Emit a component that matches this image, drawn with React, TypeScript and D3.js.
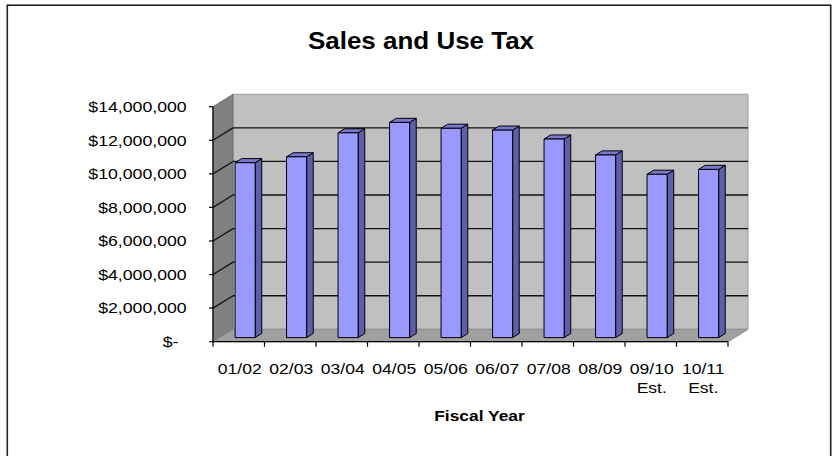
import React from "react";
import * as d3 from "d3";

const categories: string[][] = [
  ["01/02"], ["02/03"], ["03/04"], ["04/05"], ["05/06"],
  ["06/07"], ["07/08"], ["08/09"], ["09/10", "Est."], ["10/11", "Est."],
];
const values: number[] = [
  10420000, 10770000, 12200000, 12820000, 12470000,
  12360000, 11830000, 10880000, 9730000, 10020000,
];
const yTicks: number[] = [0, 2000000, 4000000, 6000000, 8000000, 10000000, 12000000, 14000000];
const title = "Sales and Use Tax";
const xTitle = "Fiscal Year";

const W = 832;
const H = 456;
const FONT = "'Liberation Sans', Arial, Helvetica, sans-serif";

export default function App() {
  const left = 213, right = 728, bottom = 341.7, top = 106.7;
  const DX = 20, DY = -12.4; // full depth
  const f1 = 0.33, f2 = 0.66; // bar depth fractions
  const sx = 1.18;

  const keys = categories.map((c) => c.join(" "));
  const x = d3.scaleBand<string>().domain(keys).range([left, right]).padding(0);
  const y = d3.scaleLinear().domain([0, 14000000]).range([bottom, top]);
  const bw = x.bandwidth();
  const fmt = d3.format(",");
  const label = (v: number) => (v === 0 ? "$-" : "$" + fmt(v));

  const pts = (arr: [number, number][]) => arr.map((p) => p.join(",")).join(" ");

  const yMax = y(14000000);
  const y0 = y(0);

  return (
    <svg width={W} height={H} style={{ position: "absolute", left: 0, top: 0, background: "#fff" }}>
      <rect x={7.3} y={5.2} width={823.4} height={470} fill="#fff" stroke="#222" strokeWidth={1.6} />

      {/* title */}
      <text transform={`translate(421,49) scale(1.06,1)`} textAnchor="middle" fontFamily={FONT} fontWeight="bold" fontSize={24.5} fill="#000">
        {title}
      </text>

      {/* walls */}
      <polygon points={pts([[left + DX, yMax + DY], [right + DX, yMax + DY], [right + DX, y0 + DY], [left + DX, y0 + DY]])} fill="#c0c0c0" stroke="#9a9a9a" strokeWidth={1} />
      <polygon points={pts([[left, y0], [left, yMax], [left + DX, yMax + DY], [left + DX, y0 + DY]])} fill="#808080" stroke="#707070" strokeWidth={1} />
      <polygon points={pts([[left, y0], [right, y0], [right + DX, y0 + DY], [left + DX, y0 + DY]])} fill="#a0a0a0" stroke="#8a8a8a" strokeWidth={1} />

      {/* gridlines */}
      {yTicks.filter((t) => t > 0 && t < 14000000).map((t) => (
        <g key={"g" + t}>
          <line x1={left} y1={y(t)} x2={left + DX} y2={y(t) + DY} stroke="#111" strokeWidth={1.3} />
          <line x1={left + DX} y1={y(t) + DY} x2={right + DX} y2={y(t) + DY} stroke="#111" strokeWidth={1.3} />
        </g>
      ))}

      {/* bars */}
      {values.map((v, i) => {
        const k = keys[i];
        const bx = (x(k) as number) + bw * 0.3;
        const bwid = bw * 0.39;
        const ox = DX * f1, oy = DY * f1;
        const dx = DX * (f2 - f1), dy = DY * (f2 - f1);
        const fx = bx + ox;
        const fyTop = y(v) + oy;
        const fyBot = y0 + oy;
        return (
          <g key={k} stroke="#000" strokeWidth={1} strokeLinejoin="round">
            <polygon points={pts([[fx + bwid, fyTop], [fx + bwid + dx, fyTop + dy], [fx + bwid + dx, fyBot + dy], [fx + bwid, fyBot]])} fill="#5e5eaa" />
            <polygon points={pts([[fx, fyTop], [fx + dx, fyTop + dy], [fx + bwid + dx, fyTop + dy], [fx + bwid, fyTop]])} fill="#7878d0" />
            <rect x={fx} y={fyTop} width={bwid} height={fyBot - fyTop} fill="#9999ff" />
          </g>
        );
      })}

      {/* y axis */}
      <line x1={left} y1={yMax} x2={left} y2={y0} stroke="#000" strokeWidth={1.2} />
      {yTicks.map((t) => (
        <g key={"y" + t}>
          <line x1={left - 4} y1={y(t)} x2={left} y2={y(t)} stroke="#000" strokeWidth={1.2} />
          <text transform={`translate(${t === 0 ? 178.5 : 186.7},${y(t) + 5.3}) scale(${sx},1)`} textAnchor="end" fontFamily={FONT} fontSize={15} fill="#000">
            {label(t)}
          </text>
        </g>
      ))}

      {/* x axis */}
      <line x1={left} y1={y0} x2={right} y2={y0} stroke="#000" strokeWidth={1.2} />
      {[...keys.map((k) => x(k) as number), right].map((p, i) => (
        <line key={"xt" + i} x1={p} y1={y0} x2={p} y2={y0 + 5} stroke="#000" strokeWidth={1.2} />
      ))}
      {categories.map((lines, i) => (
        <g key={"xl" + i}>
          {lines.map((ln, j) => (
            <text key={j} transform={`translate(${(x(keys[i]) as number) + bw / 2 + 1},${374 + j * 19}) scale(1.17,1)`} textAnchor="middle" fontFamily={FONT} fontSize={15} fill="#000">
              {ln}
            </text>
          ))}
        </g>
      ))}

      <text transform={`translate(${(left + right + DX) / 2 - 1},421) scale(1.16,1)`} textAnchor="middle" fontFamily={FONT} fontWeight="bold" fontSize={15} fill="#000">
        {xTitle}
      </text>
    </svg>
  );
}
